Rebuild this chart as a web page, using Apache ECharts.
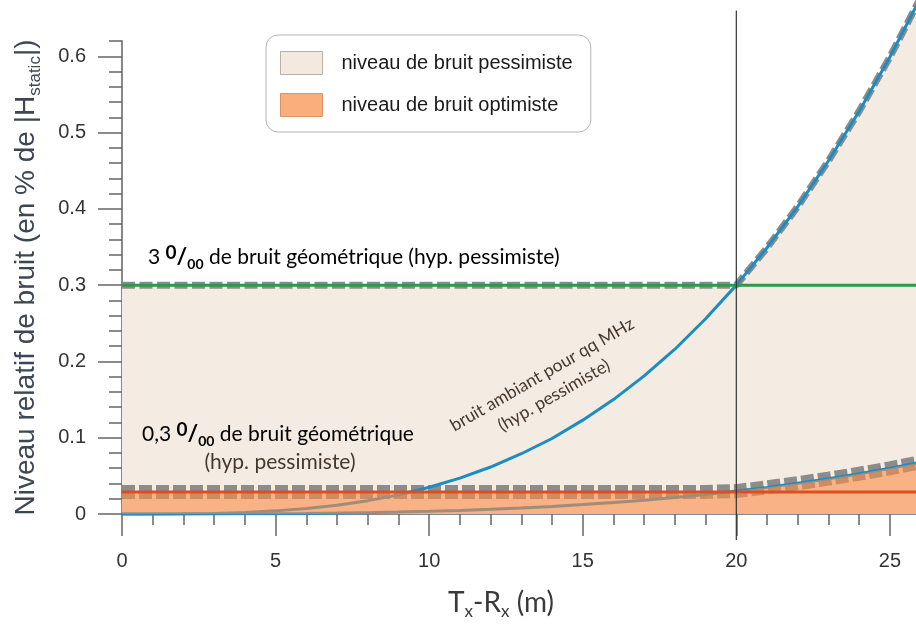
<!DOCTYPE html>
<html>
<head>
<meta charset="utf-8">
<title>Niveau relatif de bruit</title>
<script src="https://cdn.jsdelivr.net/npm/echarts@6/dist/echarts.min.js"></script>
<style>
    html, body {margin: 0; padding: 0; background: #fff;}
    #chart {width: 916px; height: 624px;}
</style>
</head>
<body>
<div id="chart"></div>
<script>
// distance Tx-Rx (m)
const distances = [0, 1, 2, 3, 4, 5, 6, 7, 8, 9, 10, 11, 12, 13, 14, 15, 16, 17, 18, 19, 20, 21, 22, 23, 24, 25, 26];
const bruitAmbiantPess = [0, 0.00003, 0.0002, 0.0008, 0.002, 0.0041, 0.0072, 0.0116, 0.0175, 0.025, 0.035, 0.047, 0.0616, 0.079, 0.099, 0.123, 0.150, 0.181, 0.216, 0.256, 0.300, 0.349, 0.403, 0.463, 0.528, 0.599, 0.677];
// bruit ambiant (hyp. optimiste), courbe basse
const bruitAmbiantOpt = [0, 0, 0, 0.0001, 0.0002, 0.0004, 0.0007, 0.0012, 0.0018, 0.0025, 0.0035, 0.0047, 0.0062, 0.0079, 0.0099, 0.0123, 0.0150, 0.0181, 0.0216, 0.0256, 0.0300, 0.0349, 0.0403, 0.0463, 0.0528, 0.0599, 0.0677];
// bruit géométrique
const bruitGeoPess = 0.3;    // 3 ‰
const bruitGeoOpt = 0.029;   // 0,3 ‰
// axes
const xMajorTicks = [0, 5, 10, 15, 20, 25];
const xMinorTicks = [0, 1, 2, 3, 4, 5, 6, 7, 8, 9, 10, 11, 12, 13, 14, 15, 16, 17, 18, 19, 20, 21, 22, 23, 24, 25];
const yMajorTicks = [0, 0.1, 0.2, 0.3, 0.4, 0.5, 0.6];
const yMinorTicks = [0, 0.02, 0.04, 0.06, 0.08, 0.1, 0.12, 0.14, 0.16, 0.18, 0.2, 0.22, 0.24, 0.26, 0.28, 0.3, 0.32, 0.34, 0.36, 0.38, 0.4, 0.42, 0.44, 0.46, 0.48, 0.5, 0.52, 0.54, 0.56, 0.58, 0.6, 0.62];
// trait vertical de repère
const repereX = 20;
const repereBas = -0.034;
const repereHaut = 0.66;

const xMax = 25.85, yMax = 0.62;
const nomPess = 'niveau de bruit pessimiste';
const nomOpt = 'niveau de bruit optimiste';

// enveloppes (max du bruit géométrique et du bruit ambiant)
let envPess = [], envOpt = [], courbePess = [], courbeOpt = [], ligneGeoPess = [], ligneGeoOpt = [];
for (let i = 0; i < distances.length; i++) {
    let d = distances[i];
    envPess.push([d, Math.max(bruitGeoPess, bruitAmbiantPess[i])]);
    envOpt.push([d, Math.max(bruitGeoOpt, bruitAmbiantOpt[i])]);
    courbePess.push([d, bruitAmbiantPess[i]]);
    courbeOpt.push([d, bruitAmbiantOpt[i]]);
    ligneGeoPess.push([d, bruitGeoPess]);
    ligneGeoOpt.push([d, bruitGeoOpt]);
}

const chart = echarts.init(document.getElementById('chart'));
const txtFont = 'Lato, "Open Sans", sans-serif';
const arial = '"Liberation Sans", Arial, sans-serif';
const txtColor = '#45392f';
const permille = {
    t: {fontSize: 21, fontFamily: txtFont, color: txtColor, lineHeight: 28},
    sup: {fontSize: 19, fontWeight: 'bold', fontFamily: txtFont, color: txtColor, verticalAlign: 'top', lineHeight: 28},
    sl: {fontSize: 23, fontWeight: 'bold', fontFamily: txtFont, color: txtColor, lineHeight: 28},
    sub: {fontSize: 14, fontWeight: 'bold', fontFamily: txtFont, color: txtColor, verticalAlign: 'bottom', lineHeight: 28}
};

let option = {
    animation: false,
    backgroundColor: '#fff',
    grid: {left: 122, right: 0, top: 41, bottom: 110, outerBoundsMode: 'none', containLabel: false},
    legend: {
        left: 266, top: 35,
        orient: 'vertical',
        selectedMode: false,
        padding: [16, 18, 15, 14],
        itemWidth: 42, itemHeight: 23, itemGap: 18,
        backgroundColor: '#fff',
        borderColor: '#b4b4b4', borderWidth: 1, borderRadius: 12,
        textStyle: {fontFamily: arial, fontSize: 20, color: '#1a1a1a', padding: [0, 0, 0, 14]},
        data: [
            {name: nomPess, icon: 'rect', itemStyle: {color: '#f3e9df', borderColor: '#b8b0a8', borderWidth: 1}},
            {name: nomOpt, icon: 'rect', itemStyle: {color: '#f9ae7c', borderColor: '#d89468', borderWidth: 1}}
        ]
    },
    xAxis: [
        {
            type: 'value', min: 0, max: xMax, position: 'bottom',
            axisLine: {show: true, lineStyle: {color: '#888', width: 1}},
            axisTick: {show: true, customValues: xMinorTicks, length: 11, lineStyle: {color: '#666', width: 1.5}},
            axisLabel: {show: false},
            splitLine: {show: false},
            name: 'T{s|x}-R{s|x} (m)',
            nameLocation: 'middle',
            nameGap: 72,
            nameTextStyle: {
                fontFamily: txtFont, fontSize: 28, color: '#3a3a3a', padding: [0, 36, 0, 0],
                rich: {s: {fontFamily: txtFont, fontSize: 17, color: '#3a3a3a', verticalAlign: 'bottom', lineHeight: 34}}
            }
        },
        {
            type: 'value', min: 0, max: xMax, position: 'bottom',
            axisLine: {show: false},
            axisTick: {show: true, customValues: xMajorTicks, length: 22, lineStyle: {color: '#666', width: 1.5}},
            axisLabel: {show: true, customValues: xMajorTicks, margin: 37, fontSize: 20, color: '#333', fontFamily: arial},
            splitLine: {show: false}
        }
    ],
    yAxis: [
        {
            type: 'value', min: 0, max: yMax, position: 'left',
            axisLine: {show: true, lineStyle: {color: '#888', width: 2}},
            axisTick: {show: true, customValues: yMinorTicks, length: 13, lineStyle: {color: '#666', width: 1.5}},
            axisLabel: {show: false},
            splitLine: {show: false},
            name: 'Niveau relatif de bruit (en % de |H{s|static}|)',
            nameLocation: 'middle',
            nameGap: 78,
            nameTextStyle: {
                fontFamily: arial, fontSize: 28, color: '#3d4754',
                rich: {s: {fontFamily: arial, fontSize: 17, color: '#3d4754', verticalAlign: 'bottom', lineHeight: 36}}
            }
        },
        {
            type: 'value', min: 0, max: yMax, position: 'left',
            axisLine: {show: false},
            axisTick: {show: true, customValues: yMajorTicks, length: 24, lineStyle: {color: '#666', width: 1.5}},
            axisLabel: {show: true, customValues: yMajorTicks, margin: 36, fontSize: 20, color: '#333', fontFamily: arial},
            splitLine: {show: false}
        }
    ],
    series: [
        {   // zone pessimiste
            name: nomPess, type: 'line', data: envPess, clip: false,
            showSymbol: false, silent: true, z: 1,
            lineStyle: {width: 0},
            itemStyle: {color: '#f3e9df'},
            areaStyle: {color: '#f4ebe2', opacity: 1}
        },
        {   // enveloppe pessimiste, tirets gris
            type: 'line', data: envPess, clip: false, showSymbol: false, silent: true, z: 2,
            lineStyle: {color: '#8c8c8c', width: 7, type: [13, 4.5], cap: 'butt'}
        },
        {   // enveloppe optimiste, tirets gris
            type: 'line', data: envOpt, showSymbol: false, silent: true, z: 2,
            lineStyle: {color: '#8c8c8c', width: 14, type: [13, 4], cap: 'butt'}
        },
        {   // bruit ambiant pessimiste
            type: 'line', data: courbePess, clip: false, showSymbol: false, silent: true, z: 3,
            lineStyle: {color: '#1b8dc2', width: 3}
        },
        {   // bruit ambiant optimiste
            type: 'line', data: courbeOpt, showSymbol: false, silent: true, z: 3,
            lineStyle: {color: '#1b8dc2', width: 3}
        },
        {   // zone optimiste
            name: nomOpt, type: 'line', data: envOpt, showSymbol: false, silent: true, z: 4,
            lineStyle: {width: 0},
            itemStyle: {color: '#f9ae7c'},
            areaStyle: {color: 'rgb(250,140,71)', opacity: 0.6}
        },
        {   // 3 ‰
            type: 'line', data: ligneGeoPess, showSymbol: false, silent: true, z: 5,
            lineStyle: {color: '#2f9a46', width: 3}
        },
        {   // 0,3 ‰
            type: 'line', data: ligneGeoOpt, showSymbol: false, silent: true, z: 5,
            lineStyle: {color: '#dc5020', width: 3}
        },
        {   // repère vertical
            type: 'line', data: [[repereX, repereBas], [repereX, repereHaut]], clip: false,
            showSymbol: false, silent: true, z: 6,
            lineStyle: {color: '#333', width: 1.2}
        }
    ],
    graphic: [
        {
            type: 'text', x: 148, y: 257, z: 10, silent: true,
            style: {
                text: '{t|3 }{sup|0}{sl|/}{sub|00}{t| de bruit géométrique (hyp. pessimiste)}',
                rich: permille, verticalAlign: 'middle', align: 'left'
            }
        },
        {
            type: 'text', x: 142, y: 434, z: 10, silent: true,
            style: {
                text: '{t|0,3 }{sup|0}{sl|/}{sub|00}{t| de bruit géométrique}',
                rich: permille, verticalAlign: 'middle', align: 'left'
            }
        },
        {
            type: 'text', x: 280, y: 462, z: 10, silent: true,
            style: {
                text: '(hyp. pessimiste)', font: '21px ' + txtFont, fill: txtColor,
                align: 'center', verticalAlign: 'middle'
            }
        },
        {
            type: 'text', x: 548, y: 385, z: 10, silent: true,
            rotation: 30 * Math.PI / 180,
            style: {
                text: 'bruit ambiant pour qq MHz\n(hyp. pessimiste)', font: '17.5px ' + txtFont, fill: txtColor,
                lineHeight: 24, align: 'center', verticalAlign: 'middle'
            }
        }
    ]
};
chart.setOption(option);
</script>
</body>
</html>
